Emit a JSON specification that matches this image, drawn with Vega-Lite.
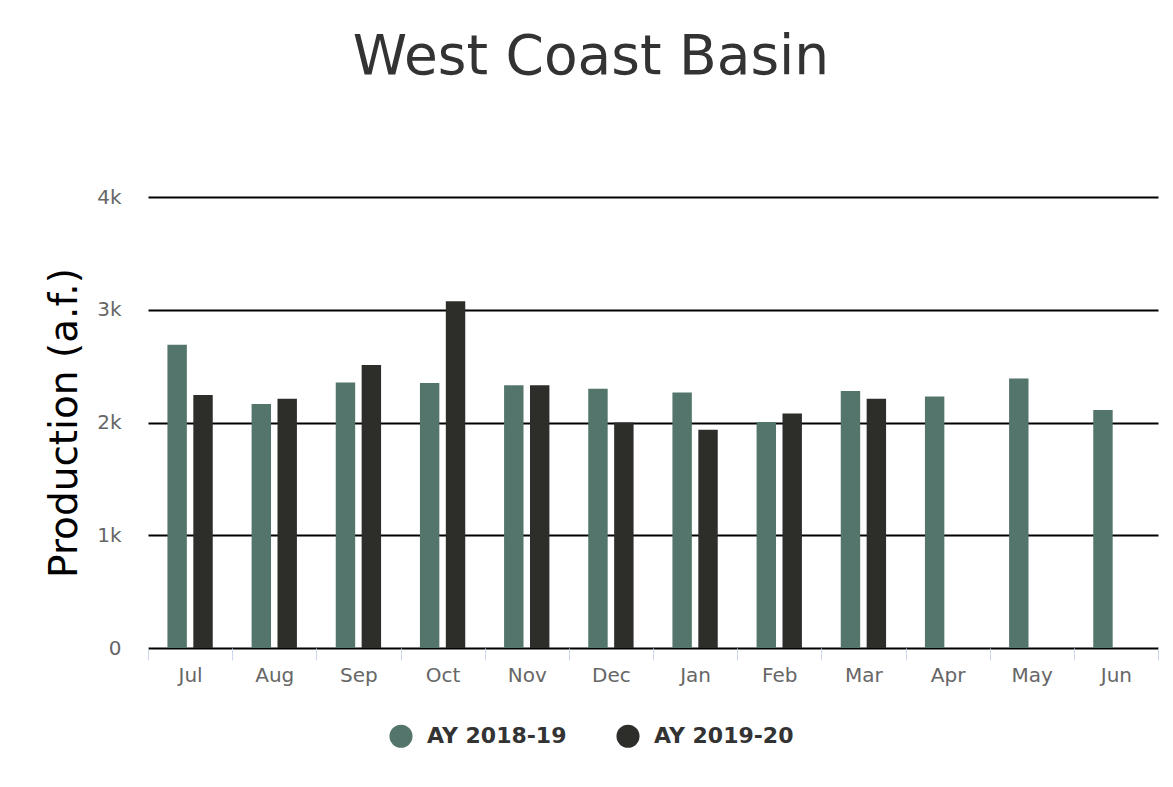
{
  "$schema": "https://vega.github.io/schema/vega-lite/v6.json",
  "autosize": {"type": "none"},
  "width": 1010,
  "height": 451,
  "padding": {"left": 148, "top": 197, "right": 15, "bottom": 139},
  "background": "white",
  "title": {
    "text": "West Coast Basin",
    "anchor": "middle",
    "dx": -62,
    "offset": 101,
    "fontSize": 55,
    "font": "DejaVu Sans",
    "fontWeight": "normal",
    "color": "#333333"
  },
  "data": {
    "values": [
      {"month": "Jul", "year": "AY 2018-19", "value": 2690},
      {"month": "Jul", "year": "AY 2019-20", "value": 2245},
      {"month": "Aug", "year": "AY 2018-19", "value": 2165},
      {"month": "Aug", "year": "AY 2019-20", "value": 2210},
      {"month": "Sep", "year": "AY 2018-19", "value": 2355},
      {"month": "Sep", "year": "AY 2019-20", "value": 2510},
      {"month": "Oct", "year": "AY 2018-19", "value": 2350},
      {"month": "Oct", "year": "AY 2019-20", "value": 3075},
      {"month": "Nov", "year": "AY 2018-19", "value": 2330},
      {"month": "Nov", "year": "AY 2019-20", "value": 2330},
      {"month": "Dec", "year": "AY 2018-19", "value": 2300},
      {"month": "Dec", "year": "AY 2019-20", "value": 2000},
      {"month": "Jan", "year": "AY 2018-19", "value": 2265},
      {"month": "Jan", "year": "AY 2019-20", "value": 1935},
      {"month": "Feb", "year": "AY 2018-19", "value": 2005},
      {"month": "Feb", "year": "AY 2019-20", "value": 2080},
      {"month": "Mar", "year": "AY 2018-19", "value": 2280},
      {"month": "Mar", "year": "AY 2019-20", "value": 2210},
      {"month": "Apr", "year": "AY 2018-19", "value": 2230},
      {"month": "May", "year": "AY 2018-19", "value": 2390},
      {"month": "Jun", "year": "AY 2018-19", "value": 2110}
    ]
  },
  "mark": {"type": "bar"},
  "encoding": {
    "x": {
      "field": "month",
      "type": "nominal",
      "sort": ["Jul","Aug","Sep","Oct","Nov","Dec","Jan","Feb","Mar","Apr","May","Jun"],
      "scale": {"paddingInner": 0, "paddingOuter": 0},
      "axis": {
        "title": null,
        "labelAngle": 0,
        "labelFont": "DejaVu Sans",
        "labelFontSize": 20,
        "labelColor": "#666666",
        "labelPadding": 5,
        "tickBand": "extent",
        "tickSize": 12,
        "tickColor": "#ccd6eb",
        "tickWidth": 1,
        "domain": false,
        "grid": false
      }
    },
    "xOffset": {
      "field": "year",
      "type": "nominal",
      "scale": {"paddingInner": 0.25, "paddingOuter": 0.75}
    },
    "y": {
      "field": "value",
      "type": "quantitative",
      "scale": {"domain": [0, 4000]},
      "axis": {
        "title": "Production (a.f.)",
        "titleFont": "DejaVu Sans",
        "titleFontSize": 39,
        "titleFontWeight": "normal",
        "titleColor": "#000000",
        "titlePadding": 12,
        "values": [0, 1000, 2000, 3000, 4000],
        "labelExpr": "datum.value == 0 ? '0' : format(datum.value / 1000, 'd') + 'k'",
        "labelFont": "DejaVu Sans",
        "labelFontSize": 20,
        "labelColor": "#666666",
        "labelPadding": 27,
        "labelBaseline": "middle",
        "ticks": false,
        "domain": false,
        "grid": true,
        "gridColor": "#000000",
        "gridWidth": 2,
        "gridOpacity": 1
      }
    },
    "color": {
      "field": "year",
      "type": "nominal",
      "scale": {"domain": ["AY 2018-19", "AY 2019-20"], "range": ["#54756c", "#2d2e2a"]},
      "legend": {
        "title": null,
        "orient": "none",
        "direction": "horizontal",
        "legendX": 241,
        "legendY": 527,
        "symbolType": "circle",
        "symbolSize": 530,
        "symbolStrokeWidth": 0,
        "symbolOpacity": 1,
        "labelFont": "DejaVu Sans",
        "labelFontSize": 22,
        "labelFontWeight": "bold",
        "labelColor": "#333333",
        "labelOffset": 14,
        "columnPadding": 49
      }
    }
  },
  "config": {
    "view": {"stroke": null}
  }
}
